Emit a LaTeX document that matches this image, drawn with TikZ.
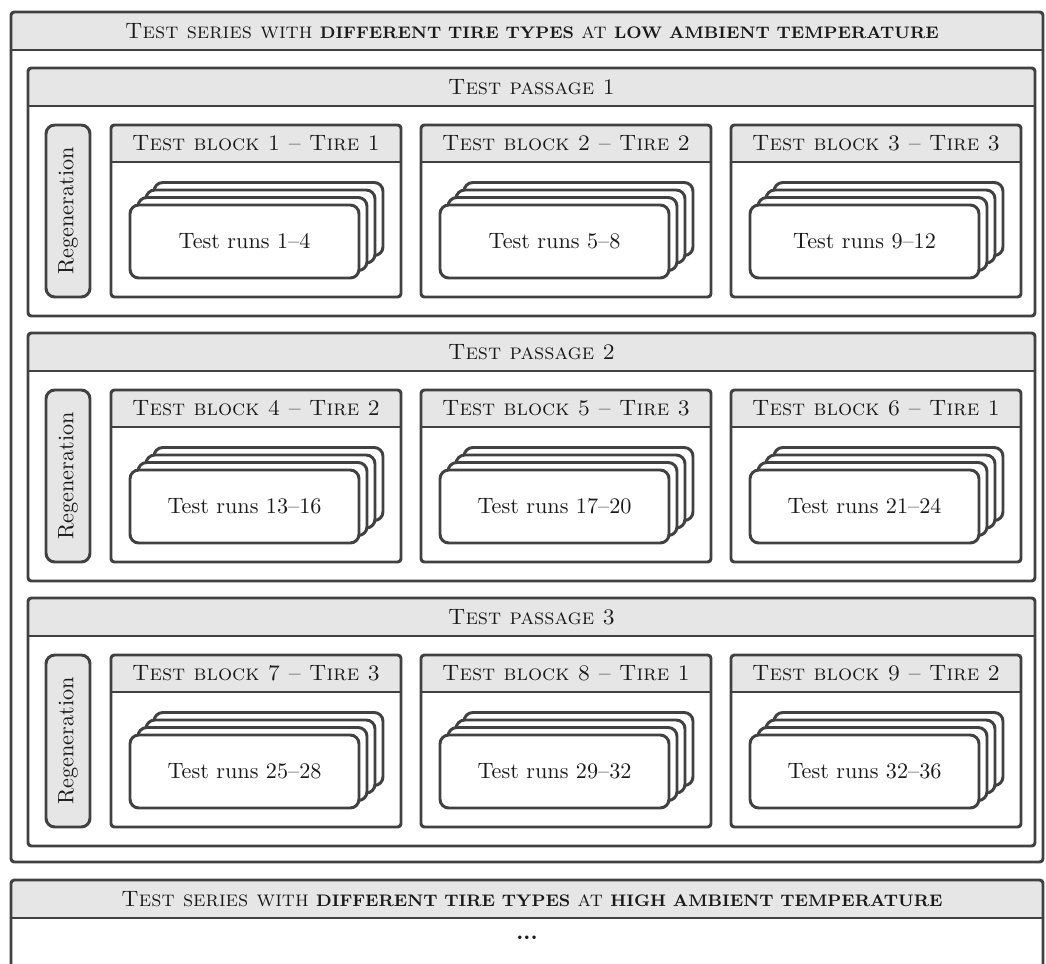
\documentclass[tikz,border=0pt]{standalone}
\usepackage{fontspec}
\usetikzlibrary{positioning}
\definecolor{rahmen}{HTML}{414141}
\definecolor{kopf}{HTML}{E6E6E6}
\definecolor{schrift}{HTML}{1A1A1A}
\newcommand{\boldsc}[1]{{\bfseries\fontsize{7.6}{8}\selectfont\MakeUppercase{#1}}}

\begin{document}
\begin{tikzpicture}[x=0.4545pt,y=-0.4545pt,line join=round,
    frame/.style={draw=rahmen,line width=1.35pt,rounded corners=1.5pt},
    sep/.style={draw=rahmen,line width=1.35pt},
    regen/.style={draw=rahmen,fill=kopf,line width=1.35pt,rounded corners=4pt},
    card/.style={draw=rahmen,fill=white,line width=1.35pt,rounded corners=4pt},
    txt/.style={text=schrift,inner sep=0pt,font=\fontsize{10.1}{12}\selectfont}]
  \useasboundingbox (0,0) rectangle (1046,964);
  \clip (0,0) rectangle (1046,964);

  % series at low temperature
  \fill[kopf,rounded corners=1.5pt] (11,12) rectangle (1043,50);
  \draw[frame] (11,12) rectangle (1043,862);
  \draw[sep] (11,50) -- (1043,50);
  \node[txt] (serieslow) at (532,31)
    {\textsc{Test series with} \boldsc{different tire types} \textsc{at} \boldsc{low ambient temperature}};

  % passages with regeneration
  \foreach \p/\yo in {1/68,2/333,3/598}{
    \fill[kopf,rounded corners=1.5pt] (28,\yo) rectangle (1035,\yo+38);
    \draw[frame] (28,\yo) rectangle (1035,\yo+248);
    \draw[sep] (28,\yo+38) -- (1035,\yo+38);
    \node[txt] (pass\p) at (531.5,\yo+19) {\textsc{Test passage \p}};
    \draw[regen] (46,\yo+57) rectangle (90,\yo+229);
    \node[txt,rotate=90] (regen\p) at (68,\yo+143) {Regeneration};
  }

  % test blocks
  \foreach \n/\p/\b/\t/\r in {1/0/0/1/{1--4},2/0/1/2/{5--8},3/0/2/3/{9--12},
      4/1/0/2/{13--16},5/1/1/3/{17--20},6/1/2/1/{21--24},
      7/2/0/3/{25--28},8/2/1/1/{29--32},9/2/2/2/{32--36}}{
    \pgfmathsetmacro{\yo}{68+265*\p}
    \pgfmathsetmacro{\xo}{111+310*\b}
    \fill[kopf,rounded corners=1.5pt] (\xo,\yo+57) rectangle (\xo+290,\yo+94);
    \draw[frame] (\xo,\yo+57) rectangle (\xo+290,\yo+229);
    \draw[sep] (\xo,\yo+94) -- (\xo+290,\yo+94);
    \node[txt] (blk\n) at (\xo+145,\yo+75.5) {\textsc{Test block \n\ -- Tire \t}};
    \foreach \k in {3,2,1,0}
      \draw[card] (\xo+19+8*\k,\yo+137-7.5*\k) rectangle (\xo+248+8*\k,\yo+210-7.5*\k);
    \node[txt] (runs\n) at (\xo+133.5,\yo+173.5) {Test runs \r};
  }

  % series at high temperature
  \fill[kopf,rounded corners=1.5pt] (11,880) rectangle (1043,918);
  \draw[frame] (11,880) rectangle (1043,1010);
  \draw[sep] (11,918) -- (1043,918);
  \node[txt] (serieshigh) at (532,899)
    {\textsc{Test series with} \boldsc{different tire types} \textsc{at} \boldsc{high ambient temperature}};
  \node[txt] (more) at (527,938) {\textbf{...}};
\end{tikzpicture}
\end{document}
